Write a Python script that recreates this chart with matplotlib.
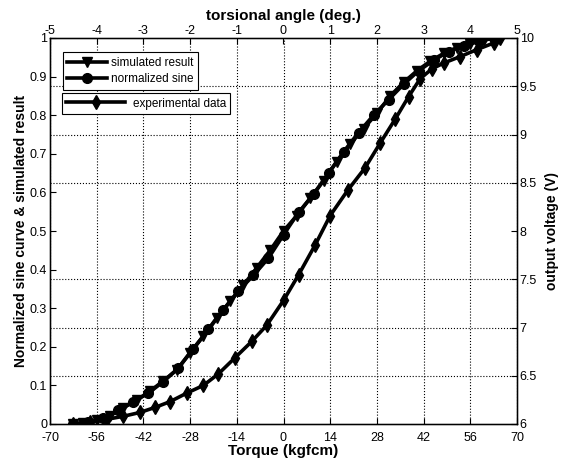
import matplotlib
matplotlib.use("Agg")
import matplotlib.pyplot as plt
import numpy as np

plt.rcParams['font.family'] = ['Liberation Sans', 'DejaVu Sans']

# torque (kgfcm) positions and values
sine_x = [-63, -58.5, -54, -49.5, -45, -40.5, -36, -31.5, -27, -22.5, -18, -13.5, -9, -4.5,
          0, 4.5, 9, 13.5, 18, 22.5, 27, 31.5, 36, 40.5, 45, 49.5, 54, 58.5, 63]
sine_y = [0.0, 0.004, 0.015, 0.035, 0.058, 0.08, 0.11, 0.145, 0.195, 0.245, 0.296, 0.345, 0.385, 0.43,
          0.49, 0.548, 0.595, 0.65, 0.705, 0.755, 0.8, 0.84, 0.88, 0.915, 0.942, 0.965, 0.98, 0.992, 1.0]

sim_x = [-63, -60, -56, -52, -48, -44, -40, -36, -32, -28, -24, -20, -16, -12, -8, -4,
         0, 4, 8, 12, 16, 20, 24, 28, 32, 36, 40, 44, 48, 52, 56, 60, 64]
sim_y = [0.0, 0.003, 0.01, 0.022, 0.042, 0.062, 0.085, 0.112, 0.14, 0.185, 0.228, 0.275, 0.318, 0.36, 0.405, 0.45,
         0.5, 0.54, 0.585, 0.63, 0.68, 0.725, 0.765, 0.805, 0.85, 0.885, 0.915, 0.94, 0.96, 0.975, 0.985, 0.995, 1.0]

exp_x = [-63, -58, -53, -48, -43, -38.5, -34, -29, -24, -19.5, -14.5, -9.5, -5, 0, 4.5, 9.5,
         14, 19.3, 24.4, 29, 33.5, 37.5, 41, 44.5, 48, 53, 58, 63, 65]
exp_y = [0.0, 0.004, 0.012, 0.02, 0.03, 0.043, 0.058, 0.08, 0.10, 0.13, 0.172, 0.214, 0.256, 0.32, 0.386, 0.464,
         0.54, 0.606, 0.663, 0.728, 0.79, 0.848, 0.895, 0.92, 0.935, 0.952, 0.97, 0.987, 1.0]

torque_ticks = [-70, -56, -42, -28, -14, 0, 14, 28, 42, 56, 70]
angle_ticks = [-5, -4, -3, -2, -1, 0, 1, 2, 3, 4, 5]
left_ticks = [0, 0.1, 0.2, 0.3, 0.4, 0.5, 0.6, 0.7, 0.8, 0.9, 1]
volt_ticks = [6, 6.5, 7, 7.5, 8, 8.5, 9, 9.5, 10]

fig = plt.figure(figsize=(5.62, 4.62), dpi=100)
ax = fig.add_axes([50/562, 1-424/462, 467/562, 386/462])

lw = 2.6
ms = 7
l_sim, = ax.plot(sim_x, sim_y, color='black', lw=lw, marker='v', ms=ms, zorder=3)
l_sine, = ax.plot(sine_x, sine_y, color='black', lw=lw, marker='o', ms=ms, zorder=3)
l_exp, = ax.plot(exp_x, exp_y, color='black', lw=lw, marker='d', ms=ms, zorder=3)

ax.set_xlim(-70, 70)
ax.set_ylim(0, 1)
ax.set_xticks(torque_ticks)
ax.set_xticklabels([str(t) for t in torque_ticks])
ax.set_yticks(left_ticks)
ax.set_yticklabels(['0', '0.1', '0.2', '0.3', '0.4', '0.5', '0.6', '0.7', '0.8', '0.9', '1'])
ax.tick_params(direction='in', labelsize=9, length=4, width=0.8, pad=2)
ax.tick_params(axis='x', pad=6)
ax.set_xlabel('Torque (kgfcm)', fontsize=11, fontweight='bold', labelpad=0)
ax.set_ylabel('Normalized sine curve & simulated result', fontsize=10, fontweight='bold', labelpad=1)

# grid at twin-axis tick positions
ax.set_yticks([(v - 6) / 4 for v in volt_ticks], minor=True)
ax.tick_params(which='minor', length=0)
ax.grid(True, axis='x', which='major', linestyle=':', color='black', lw=0.8)
ax.grid(True, axis='y', which='minor', linestyle=':', color='black', lw=0.8)
ax.set_axisbelow(True)

for s in ax.spines.values():
    s.set_linewidth(1.0)

axr = ax.twinx()
axr.set_ylim(6, 10)
axr.set_yticks(volt_ticks)
axr.set_yticklabels(['6', '6.5', '7', '7.5', '8', '8.5', '9', '9.5', '10'])
axr.tick_params(direction='in', labelsize=9, length=4, pad=2)
axr.set_ylabel('output voltage (V)', fontsize=10, fontweight='bold', labelpad=6)

axt = ax.twiny()
axt.set_xlim(-5, 5)
axt.set_xticks(angle_ticks)
axt.set_xticklabels([str(t) for t in angle_ticks])
axt.tick_params(direction='in', labelsize=9, length=4, pad=1)
axt.set_xlabel('torsional angle (deg.)', fontsize=11, fontweight='bold', labelpad=3)

leg1 = ax.legend([l_sim, l_sine], ['simulated result', 'normalized sine'],
                 loc='upper left', bbox_to_anchor=(0.027, 0.963), fontsize=8.5,
                 fancybox=False, edgecolor='black', framealpha=1, handlelength=3.4,
                 handletextpad=0.3, borderpad=0.4, labelspacing=0.35, borderaxespad=0)
leg1.get_frame().set_linewidth(0.8)
ax.add_artist(leg1)
leg2 = ax.legend([l_exp], ['experimental data'],
                 loc='upper left', bbox_to_anchor=(0.025, 0.858), fontsize=8.5,
                 fancybox=False, edgecolor='black', framealpha=1, handlelength=5.0,
                 handletextpad=0.6, borderpad=0.4, borderaxespad=0)
leg2.get_frame().set_linewidth(0.8)
for lg in (leg1, leg2):
    lg.set_zorder(10)

fig.savefig('out.png', dpi=100)
